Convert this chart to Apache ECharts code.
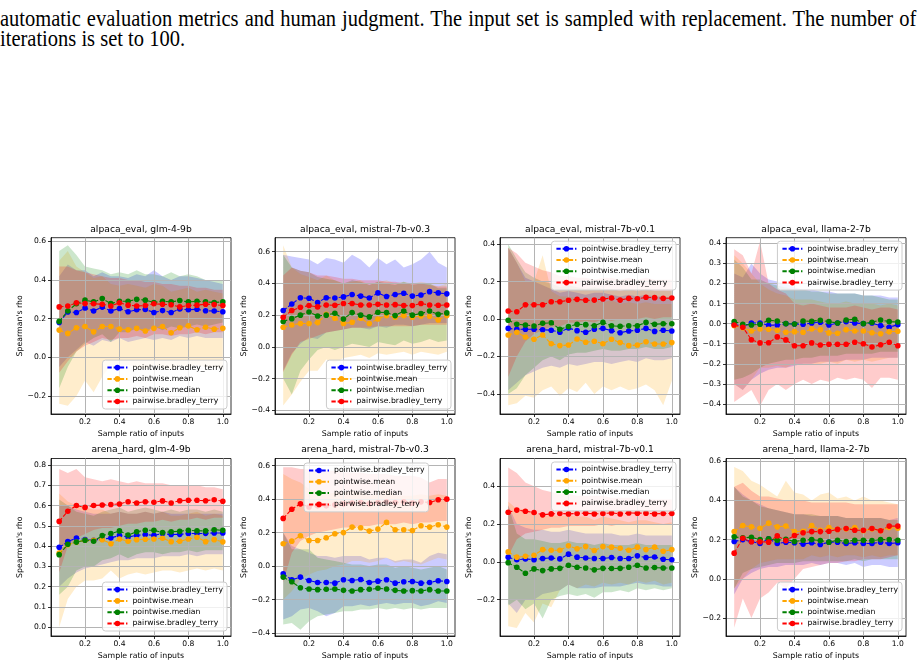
<!DOCTYPE html>
<html>
<head>
<meta charset="utf-8">
<script src="https://cdn.jsdelivr.net/npm/echarts@6.0.0/dist/echarts.min.js"></script>
<style>
  body { margin: 0; background: #fff; width: 922px; height: 667px; overflow: hidden; position: relative; }
  #caption { position: absolute; left: 0; top: 8.6px; font-family: 'Liberation Serif', serif; font-size: 20.5px;
             line-height: 17.4px; color: #000; white-space: nowrap; transform: scaleY(1.15); transform-origin: 0 0; }
  #caption .l1 { word-spacing: 0.9px; }
  .panel { position: absolute; width: 240px; }
</style>
</head>
<body>
<div id="caption">
  <div class="l1">automatic evaluation metrics and human judgment. The input set is sampled with replacement. The number of</div>
  <div>iterations is set to 100.</div>
</div>
<script>
// sample ratios on the x axis
const ratios = [0.05,0.1,0.15,0.2,0.25,0.3,0.35,0.4,0.45,0.5,0.55,0.6,0.65,0.7,0.75,0.8,0.85,0.9,0.95,1.0];
const xTicks = [0.2,0.4,0.6,0.8,1.0];
const methods = ['pointwise.bradley_terry','pointwise.mean','pointwise.median','pairwise.bradley_terry'];

// tick labels of the y axes
const yTicksA = [-0.2,0,0.2,0.4,0.6];
const yTicksB = [-0.4,-0.2,0,0.2,0.4,0.6];
const yTicksC = [-0.4,-0.2,0,0.2,0.4];
const yTicksD = [-0.4,-0.3,-0.2,-0.1,0,0.1,0.2,0.3,0.4];
const yTicksE = [0,0.1,0.2,0.3,0.4,0.5,0.6,0.7,0.8];
const yTicksF = [-0.2,0,0.2,0.4];

// alpaca_eval, glm-4-9b
const ae_glm_pbt = [0.18,0.235,0.232,0.255,0.24,0.26,0.24,0.253,0.236,0.246,0.248,0.232,0.242,0.232,0.25,0.246,0.249,0.241,0.24,0.236];
const ae_glm_pbt_lo = [-0.05,0.0,0.04,0.08,0.06,0.09,0.08,0.1,0.08,0.09,0.1,0.09,0.1,0.09,0.11,0.1,0.11,0.1,0.1,0.1];
const ae_glm_pbt_hi = [0.42,0.48,0.45,0.45,0.42,0.44,0.42,0.42,0.41,0.43,0.42,0.45,0.42,0.4,0.42,0.42,0.41,0.4,0.39,0.38];
const ae_glm_pmean = [0.141,0.124,0.153,0.16,0.132,0.16,0.16,0.146,0.143,0.15,0.136,0.15,0.16,0.127,0.153,0.163,0.143,0.156,0.146,0.15];
const ae_glm_pmean_lo = [-0.24,-0.25,-0.2,-0.12,-0.18,-0.1,-0.04,-0.05,-0.04,-0.05,-0.06,-0.04,-0.05,-0.06,-0.04,-0.05,-0.04,-0.05,-0.05,-0.06];
const ae_glm_pmean_hi = [0.5,0.55,0.47,0.44,0.41,0.42,0.38,0.37,0.38,0.37,0.36,0.38,0.37,0.34,0.35,0.36,0.34,0.35,0.34,0.33];
const ae_glm_pmed = [0.186,0.24,0.277,0.296,0.287,0.304,0.278,0.29,0.29,0.3,0.296,0.284,0.29,0.287,0.294,0.287,0.29,0.287,0.284,0.287];
const ae_glm_pmed_lo = [-0.16,-0.05,0.03,0.07,0.1,0.12,0.08,0.13,0.13,0.15,0.13,0.16,0.14,0.16,0.15,0.16,0.17,0.16,0.17,0.18];
const ae_glm_pmed_hi = [0.55,0.58,0.53,0.47,0.46,0.45,0.43,0.44,0.43,0.45,0.43,0.43,0.42,0.44,0.42,0.43,0.42,0.4,0.4,0.4];
const ae_glm_pair = [0.261,0.266,0.282,0.278,0.277,0.275,0.266,0.282,0.27,0.266,0.268,0.277,0.275,0.272,0.261,0.268,0.27,0.275,0.273,0.268];
const ae_glm_pair_lo = [-0.08,-0.02,0.03,0.06,0.08,0.1,0.09,0.1,0.1,0.11,0.1,0.12,0.12,0.11,0.12,0.12,0.13,0.12,0.13,0.13];
const ae_glm_pair_hi = [0.47,0.47,0.45,0.44,0.43,0.42,0.41,0.41,0.4,0.4,0.39,0.39,0.38,0.38,0.37,0.37,0.36,0.36,0.35,0.35];

// alpaca_eval, mistral-7b-v0.3
const ae_m03_pbt = [0.229,0.27,0.31,0.306,0.28,0.31,0.308,0.315,0.33,0.32,0.308,0.34,0.317,0.33,0.338,0.32,0.327,0.348,0.34,0.334];
const ae_m03_pbt_lo = [-0.15,-0.04,0.02,0.06,0.05,0.09,0.1,0.11,0.12,0.12,0.11,0.13,0.12,0.14,0.14,0.13,0.14,0.15,0.15,0.15];
const ae_m03_pbt_hi = [0.58,0.57,0.56,0.55,0.52,0.56,0.55,0.53,0.58,0.55,0.5,0.56,0.52,0.55,0.5,0.52,0.55,0.6,0.53,0.5];
const ae_m03_pmean = [0.124,0.138,0.147,0.147,0.153,0.205,0.18,0.147,0.155,0.18,0.147,0.176,0.197,0.187,0.197,0.187,0.195,0.193,0.17,0.197];
const ae_m03_pmean_lo = [-0.37,-0.3,-0.22,-0.15,-0.15,-0.08,-0.1,-0.07,-0.06,-0.05,-0.07,-0.04,-0.05,-0.04,-0.03,-0.05,-0.03,-0.04,-0.05,-0.03];
const ae_m03_pmean_hi = [0.64,0.5,0.46,0.44,0.42,0.45,0.42,0.4,0.41,0.42,0.39,0.41,0.42,0.4,0.41,0.4,0.41,0.4,0.38,0.4];
const ae_m03_pmed = [0.16,0.178,0.2,0.22,0.195,0.2,0.212,0.176,0.216,0.2,0.189,0.218,0.216,0.197,0.226,0.2,0.21,0.226,0.205,0.214];
const ae_m03_pmed_lo = [-0.2,-0.3,-0.15,-0.08,-0.02,0.0,-0.02,0.0,0.02,0.01,0.0,0.03,0.02,0.01,0.04,0.02,0.03,0.05,0.03,0.04];
const ae_m03_pmed_hi = [0.58,0.5,0.48,0.47,0.44,0.43,0.42,0.4,0.42,0.41,0.39,0.41,0.4,0.39,0.41,0.39,0.4,0.4,0.37,0.37];
const ae_m03_pair = [0.187,0.229,0.25,0.26,0.252,0.264,0.262,0.273,0.273,0.264,0.264,0.268,0.264,0.266,0.26,0.26,0.273,0.264,0.262,0.264];
const ae_m03_pair_lo = [-0.16,-0.05,0.03,0.05,0.07,0.09,0.1,0.11,0.12,0.12,0.12,0.13,0.13,0.13,0.13,0.13,0.14,0.14,0.14,0.14];
const ae_m03_pair_hi = [0.45,0.5,0.48,0.47,0.45,0.45,0.44,0.43,0.43,0.42,0.42,0.42,0.41,0.41,0.4,0.4,0.4,0.39,0.38,0.38];

// alpaca_eval, mistral-7b-v0.1
const ae_m01_pbt = [-0.05,-0.055,-0.055,-0.055,-0.057,-0.06,-0.071,-0.048,-0.062,-0.071,-0.055,-0.05,-0.062,-0.073,-0.064,-0.06,-0.05,-0.066,-0.06,-0.064];
const ae_m01_pbt_lo = [-0.38,-0.34,-0.3,-0.28,-0.26,-0.25,-0.26,-0.24,-0.25,-0.24,-0.23,-0.23,-0.24,-0.23,-0.22,-0.23,-0.21,-0.22,-0.22,-0.21];
const ae_m01_pbt_hi = [0.38,0.3,0.22,0.2,0.18,0.16,0.14,0.15,0.14,0.13,0.14,0.14,0.13,0.12,0.13,0.12,0.13,0.12,0.12,0.11];
const ae_m01_pmean = [-0.085,-0.071,-0.096,-0.108,-0.085,-0.132,-0.142,-0.139,-0.107,-0.124,-0.119,-0.132,-0.108,-0.126,-0.142,-0.139,-0.121,-0.133,-0.133,-0.126];
const ae_m01_pmean_lo = [-0.46,-0.45,-0.41,-0.42,-0.38,-0.36,-0.41,-0.37,-0.39,-0.34,-0.4,-0.36,-0.38,-0.36,-0.38,-0.37,-0.35,-0.38,-0.46,-0.33];
const ae_m01_pmean_hi = [0.38,0.3,0.2,0.2,0.34,0.15,0.12,0.12,0.11,0.1,0.1,0.09,0.1,0.08,0.09,0.08,0.09,0.08,0.08,0.08];
const ae_m01_pmed = [-0.007,-0.028,-0.032,-0.037,-0.023,-0.02,-0.055,-0.04,-0.028,-0.03,-0.036,-0.018,-0.036,-0.039,-0.036,-0.036,-0.018,-0.028,-0.025,-0.025];
const ae_m01_pmed_lo = [-0.4,-0.37,-0.3,-0.26,-0.22,-0.2,-0.22,-0.19,-0.18,-0.18,-0.17,-0.16,-0.17,-0.17,-0.16,-0.16,-0.15,-0.16,-0.16,-0.15];
const ae_m01_pmed_hi = [0.4,0.32,0.25,0.22,0.2,0.19,0.17,0.18,0.17,0.16,0.17,0.16,0.16,0.15,0.16,0.15,0.16,0.15,0.15,0.15];
const ae_m01_pair = [0.043,0.039,0.076,0.076,0.076,0.092,0.092,0.1,0.105,0.1,0.101,0.107,0.112,0.101,0.11,0.108,0.116,0.114,0.11,0.112];
const ae_m01_pair_lo = [-0.31,-0.2,-0.12,-0.08,-0.06,-0.04,-0.04,-0.02,-0.02,-0.01,-0.02,0.0,-0.01,0.0,0.0,0.0,0.01,0.0,0.01,0.01];
const ae_m01_pair_hi = [0.38,0.35,0.3,0.28,0.26,0.25,0.23,0.23,0.22,0.22,0.21,0.22,0.22,0.21,0.22,0.21,0.22,0.21,0.21,0.21];

// alpaca_eval, llama-2-7b
const ae_llama_pbt = [-0.003,-0.015,0.003,0.003,-0.008,-0.007,0,-0.002,-0.003,0.003,0.007,-0.007,0.003,0.01,0.003,0,0.003,-0.01,-0.018,-0.005];
const ae_llama_pbt_lo = [-0.3,-0.33,-0.28,-0.25,-0.23,-0.22,-0.22,-0.21,-0.2,-0.2,-0.19,-0.19,-0.19,-0.18,-0.18,-0.18,-0.17,-0.17,-0.17,-0.17];
const ae_llama_pbt_hi = [0.25,0.23,0.3,0.25,0.22,0.21,0.2,0.18,0.17,0.17,0.16,0.16,0.15,0.15,0.15,0.14,0.14,0.14,0.13,0.13];
const ae_llama_pmean = [-0.01,-0.02,-0.037,-0.027,-0.028,-0.033,-0.043,-0.04,-0.043,-0.027,-0.03,-0.046,-0.048,-0.03,-0.037,-0.037,-0.045,-0.05,-0.04,-0.038];
const ae_llama_pmean_lo = [-0.3,-0.33,-0.28,-0.22,-0.22,-0.21,-0.22,-0.2,-0.2,-0.2,-0.2,-0.19,-0.2,-0.18,-0.19,-0.18,-0.19,-0.18,-0.17,-0.17];
const ae_llama_pmean_hi = [0.34,0.3,0.25,0.2,0.17,0.15,0.14,0.12,0.12,0.12,0.11,0.1,0.1,0.11,0.1,0.1,0.1,0.09,0.1,0.09];
const ae_llama_pmed = [0.01,-0.003,-0.007,-0.003,0.017,0.013,0,-0.002,0.013,0.012,0.017,0.01,0.003,0.018,0.022,0,0.007,0.018,0.01,0.008];
const ae_llama_pmed_lo = [-0.28,-0.27,-0.25,-0.22,-0.2,-0.19,-0.18,-0.18,-0.17,-0.17,-0.16,-0.16,-0.16,-0.15,-0.15,-0.15,-0.15,-0.14,-0.14,-0.14];
const ae_llama_pmed_hi = [0.32,0.28,0.22,0.22,0.2,0.19,0.18,0.17,0.17,0.16,0.16,0.15,0.15,0.15,0.15,0.14,0.14,0.13,0.12,0.12];
const ae_llama_pair = [-0.007,-0.018,-0.08,-0.096,-0.095,-0.066,-0.081,-0.11,-0.11,-0.096,-0.106,-0.103,-0.103,-0.103,-0.093,-0.1,-0.116,-0.105,-0.093,-0.11];
const ae_llama_pair_lo = [-0.39,-0.36,-0.33,-0.41,-0.33,-0.3,-0.33,-0.3,-0.28,-0.3,-0.28,-0.29,-0.27,-0.28,-0.27,-0.28,-0.32,-0.27,-0.27,-0.28];
const ae_llama_pair_hi = [0.37,0.34,0.25,0.41,0.2,0.17,0.15,0.1,0.09,0.1,0.09,0.08,0.08,0.08,0.09,0.08,0.07,0.08,0.08,0.07];

// arena_hard, glm-4-9b
const ah_glm_pbt = [0.394,0.422,0.44,0.432,0.429,0.435,0.44,0.453,0.445,0.453,0.457,0.453,0.462,0.457,0.458,0.462,0.462,0.463,0.465,0.465];
const ah_glm_pbt_lo = [0.2,0.24,0.27,0.29,0.3,0.31,0.32,0.33,0.33,0.34,0.34,0.34,0.35,0.35,0.35,0.36,0.35,0.36,0.36,0.36];
const ah_glm_pbt_hi = [0.6,0.6,0.58,0.57,0.56,0.56,0.56,0.57,0.56,0.56,0.57,0.56,0.57,0.56,0.56,0.56,0.56,0.56,0.56,0.56];
const ah_glm_pmean = [0.366,0.407,0.419,0.429,0.429,0.432,0.412,0.435,0.424,0.432,0.434,0.435,0.439,0.422,0.424,0.435,0.444,0.422,0.432,0.421];
const ah_glm_pmean_lo = [0.0,0.14,0.2,0.23,0.23,0.24,0.28,0.24,0.26,0.27,0.26,0.27,0.28,0.28,0.27,0.28,0.29,0.28,0.29,0.28];
const ah_glm_pmean_hi = [0.66,0.62,0.6,0.59,0.58,0.58,0.56,0.57,0.56,0.56,0.57,0.56,0.57,0.55,0.55,0.56,0.57,0.55,0.56,0.55];
const ah_glm_pmed = [0.358,0.409,0.42,0.429,0.424,0.452,0.462,0.475,0.455,0.471,0.478,0.478,0.467,0.471,0.473,0.478,0.476,0.475,0.481,0.478];
const ah_glm_pmed_lo = [0.16,0.2,0.28,0.3,0.3,0.33,0.34,0.36,0.34,0.36,0.37,0.37,0.36,0.37,0.37,0.38,0.37,0.38,0.38,0.38];
const ah_glm_pmed_hi = [0.63,0.6,0.57,0.56,0.55,0.57,0.58,0.59,0.57,0.58,0.59,0.58,0.57,0.58,0.57,0.58,0.58,0.57,0.58,0.57];
const ah_glm_pair = [0.522,0.572,0.6,0.591,0.6,0.603,0.605,0.608,0.619,0.613,0.619,0.616,0.623,0.613,0.624,0.626,0.626,0.624,0.629,0.621];
const ah_glm_pair_lo = [0.27,0.4,0.44,0.46,0.48,0.49,0.49,0.5,0.51,0.51,0.52,0.52,0.53,0.52,0.53,0.53,0.54,0.53,0.54,0.54];
const ah_glm_pair_hi = [0.78,0.76,0.78,0.74,0.73,0.72,0.73,0.72,0.71,0.72,0.71,0.71,0.71,0.7,0.7,0.7,0.7,0.69,0.69,0.68];

// arena_hard, mistral-7b-v0.3
const ah_m03_pbt = [-0.046,-0.082,-0.066,-0.086,-0.098,-0.098,-0.102,-0.082,-0.086,-0.08,-0.098,-0.09,-0.082,-0.102,-0.094,-0.092,-0.102,-0.098,-0.088,-0.092];
const ah_m03_pbt_lo = [-0.32,-0.3,-0.26,-0.25,-0.27,-0.3,-0.28,-0.24,-0.24,-0.23,-0.24,-0.23,-0.22,-0.23,-0.22,-0.22,-0.24,-0.23,-0.21,-0.22];
const ah_m03_pbt_hi = [0.2,0.12,0.1,0.08,0.06,0.06,0.05,0.06,0.06,0.06,0.04,0.05,0.05,0.03,0.04,0.04,0.02,0.06,0.08,0.07];
const ah_m03_pmean = [0.133,0.149,0.181,0.153,0.153,0.169,0.193,0.2,0.233,0.229,0.209,0.221,0.261,0.217,0.217,0.213,0.241,0.233,0.247,0.233];
const ah_m03_pmean_lo = [-0.2,-0.15,-0.08,-0.05,-0.03,-0.02,0.0,0.01,0.03,0.03,0.02,0.03,0.05,0.02,0.03,0.02,0.01,0.03,0.05,0.04];
const ah_m03_pmean_hi = [0.55,0.52,0.5,0.46,0.44,0.43,0.44,0.44,0.45,0.44,0.42,0.43,0.46,0.42,0.42,0.42,0.43,0.42,0.43,0.42];
const ah_m03_pmed = [-0.066,-0.094,-0.13,-0.137,-0.141,-0.139,-0.137,-0.145,-0.149,-0.141,-0.139,-0.133,-0.137,-0.145,-0.149,-0.147,-0.149,-0.141,-0.149,-0.149];
const ah_m03_pmed_lo = [-0.35,-0.34,-0.38,-0.33,-0.3,-0.29,-0.28,-0.27,-0.27,-0.26,-0.26,-0.25,-0.26,-0.25,-0.26,-0.25,-0.26,-0.25,-0.25,-0.25];
const ah_m03_pmed_hi = [0.2,0.1,0.1,0.1,0.05,0.04,0.03,0.02,0.01,0.01,0.0,0.01,0.01,-0.01,0.0,-0.01,-0.02,-0.01,0.0,-0.02];
const ah_m03_pair = [0.285,0.34,0.372,0.353,0.36,0.36,0.366,0.372,0.376,0.38,0.372,0.38,0.384,0.38,0.384,0.376,0.384,0.38,0.396,0.4];
const ah_m03_pair_lo = [-0.1,0.08,0.15,0.18,0.2,0.21,0.22,0.23,0.23,0.24,0.24,0.25,0.25,0.25,0.26,0.25,0.26,0.26,0.27,0.27];
const ah_m03_pair_hi = [0.59,0.59,0.58,0.58,0.57,0.57,0.57,0.56,0.56,0.56,0.55,0.55,0.55,0.54,0.54,0.54,0.53,0.5,0.52,0.52];

// arena_hard, mistral-7b-v0.1
const ah_m01_pbt = [0.025,0.011,0.016,0.012,0.018,0.021,0.016,0.041,0.025,0.021,0.018,0.018,0.023,0.018,0.018,0.032,0.023,0.026,0.014,0.011];
const ah_m01_pbt_lo = [-0.22,-0.27,-0.2,-0.2,-0.17,-0.16,-0.15,-0.12,-0.14,-0.14,-0.14,-0.13,-0.13,-0.13,-0.12,-0.11,-0.12,-0.12,-0.13,-0.13];
const ah_m01_pbt_hi = [0.3,0.2,0.18,0.17,0.17,0.16,0.16,0.17,0.16,0.15,0.15,0.15,0.15,0.14,0.14,0.15,0.14,0.14,0.14,0.14];
const ah_m01_pmean = [0.053,0.025,0.03,0.035,0.065,0.062,0.062,0.085,0.069,0.081,0.06,0.081,0.078,0.072,0.062,0.078,0.065,0.078,0.056,0.065];
const ah_m01_pmean_lo = [-0.34,-0.35,-0.27,-0.32,-0.22,-0.24,-0.15,-0.12,-0.14,-0.12,-0.13,-0.11,-0.12,-0.11,-0.12,-0.1,-0.11,-0.1,-0.12,-0.11];
const ah_m01_pmean_hi = [0.32,0.28,0.28,0.26,0.24,0.25,0.24,0.25,0.24,0.24,0.22,0.24,0.23,0.22,0.21,0.22,0.22,0.21,0.2,0.21];
const ah_m01_pmed = [-0.004,-0.028,-0.06,-0.037,-0.046,-0.037,-0.034,-0.018,-0.028,-0.032,-0.042,-0.034,-0.035,-0.034,-0.028,-0.018,-0.032,-0.03,-0.032,-0.032];
const ah_m01_pmed_lo = [-0.23,-0.2,-0.25,-0.22,-0.3,-0.2,-0.18,-0.17,-0.18,-0.17,-0.19,-0.16,-0.16,-0.15,-0.16,-0.14,-0.15,-0.14,-0.15,-0.14];
const ah_m01_pmed_hi = [0.3,0.15,0.12,0.12,0.11,0.1,0.1,0.11,0.1,0.1,0.09,0.1,0.09,0.09,0.09,0.1,0.09,0.09,0.09,0.09];
const ah_m01_pair = [0.263,0.274,0.268,0.261,0.249,0.254,0.256,0.254,0.256,0.258,0.254,0.256,0.259,0.254,0.259,0.258,0.258,0.254,0.256,0.256];
const ah_m01_pair_lo = [0.03,0.12,0.15,0.16,0.17,0.18,0.18,0.19,0.19,0.19,0.19,0.2,0.19,0.2,0.2,0.2,0.2,0.2,0.2,0.2];
const ah_m01_pair_hi = [0.5,0.47,0.42,0.4,0.38,0.37,0.36,0.36,0.35,0.35,0.35,0.35,0.34,0.34,0.34,0.34,0.33,0.33,0.33,0.33];

// arena_hard, llama-2-7b
const ah_llama_pbt = [0.19,0.2,0.19,0.18,0.204,0.18,0.187,0.184,0.177,0.184,0.175,0.187,0.187,0.18,0.184,0.18,0.18,0.187,0.18,0.184];
const ah_llama_pbt_lo = [-0.08,0.0,0.03,0.05,0.06,0.06,0.07,0.07,0.07,0.08,0.07,0.08,0.08,0.07,0.08,0.06,0.07,0.07,0.06,0.06];
const ah_llama_pbt_hi = [0.47,0.43,0.4,0.38,0.36,0.35,0.34,0.33,0.33,0.32,0.32,0.32,0.32,0.31,0.31,0.31,0.31,0.31,0.3,0.31];
const ah_llama_pmean = [0.241,0.272,0.265,0.258,0.284,0.265,0.269,0.241,0.243,0.272,0.248,0.262,0.252,0.255,0.262,0.245,0.255,0.245,0.262,0.258];
const ah_llama_pmean_lo = [-0.05,0.0,0.05,0.08,0.09,0.1,0.1,0.1,0.1,0.12,0.11,0.12,0.11,0.12,0.12,0.11,0.12,0.11,0.12,0.12];
const ah_llama_pmean_hi = [0.57,0.55,0.5,0.48,0.45,0.42,0.5,0.44,0.43,0.4,0.43,0.44,0.41,0.42,0.4,0.42,0.4,0.4,0.39,0.38];
const ah_llama_pmed = [0.214,0.209,0.212,0.2,0.204,0.197,0.202,0.19,0.197,0.2,0.195,0.187,0.197,0.19,0.197,0.197,0.195,0.2,0.2,0.197];
const ah_llama_pmed_lo = [-0.05,0.03,0.05,0.06,0.07,0.08,0.08,0.08,0.09,0.09,0.09,0.09,0.09,0.09,0.1,0.09,0.1,0.1,0.1,0.1];
const ah_llama_pmed_hi = [0.47,0.42,0.4,0.37,0.36,0.35,0.34,0.33,0.33,0.33,0.32,0.32,0.32,0.31,0.31,0.31,0.31,0.31,0.3,0.3];
const ah_llama_pair = [0.131,0.207,0.189,0.189,0.187,0.219,0.195,0.221,0.235,0.241,0.241,0.243,0.252,0.257,0.248,0.248,0.257,0.245,0.269,0.269];
const ah_llama_pair_lo = [-0.25,-0.1,-0.2,-0.1,-0.07,-0.02,-0.05,0.0,0.05,0.06,0.07,0.08,0.08,0.09,0.09,0.1,0.1,0.1,0.11,0.12];
const ah_llama_pair_hi = [0.47,0.49,0.45,0.42,0.42,0.41,0.4,0.4,0.4,0.39,0.39,0.39,0.39,0.39,0.38,0.38,0.38,0.38,0.38,0.38];

const lineColors = ['#0000ff', '#ffa500', '#008000', '#ff0000'];
const bandColors = ['rgba(0,0,255,0.2)', 'rgba(255,165,0,0.2)', 'rgba(0,128,0,0.2)', 'rgba(255,0,0,0.2)'];

const panels = [
  { title: 'alpaca_eval, glm-4-9b', col: 0, row: 0, yMin: -0.293, yMax: 0.619, yTicks: yTicksA, legend: 'lr',
    mean: [ae_glm_pbt, ae_glm_pmean, ae_glm_pmed, ae_glm_pair],
    lo: [ae_glm_pbt_lo, ae_glm_pmean_lo, ae_glm_pmed_lo, ae_glm_pair_lo],
    hi: [ae_glm_pbt_hi, ae_glm_pmean_hi, ae_glm_pmed_hi, ae_glm_pair_hi] },
  { title: 'alpaca_eval, mistral-7b-v0.3', col: 1, row: 0, yMin: -0.423, yMax: 0.688, yTicks: yTicksB, legend: 'lr',
    mean: [ae_m03_pbt, ae_m03_pmean, ae_m03_pmed, ae_m03_pair],
    lo: [ae_m03_pbt_lo, ae_m03_pmean_lo, ae_m03_pmed_lo, ae_m03_pair_lo],
    hi: [ae_m03_pbt_hi, ae_m03_pmean_hi, ae_m03_pmed_hi, ae_m03_pair_hi] },
  { title: 'alpaca_eval, mistral-7b-v0.1', col: 2, row: 0, yMin: -0.507, yMax: 0.434, yTicks: yTicksC, legend: 'ur',
    mean: [ae_m01_pbt, ae_m01_pmean, ae_m01_pmed, ae_m01_pair],
    lo: [ae_m01_pbt_lo, ae_m01_pmean_lo, ae_m01_pmed_lo, ae_m01_pair_lo],
    hi: [ae_m01_pbt_hi, ae_m01_pmean_hi, ae_m01_pmed_hi, ae_m01_pair_hi] },
  { title: 'alpaca_eval, llama-2-7b', col: 3, row: 0, yMin: -0.45, yMax: 0.428, yTicks: yTicksD, legend: 'ur',
    mean: [ae_llama_pbt, ae_llama_pmean, ae_llama_pmed, ae_llama_pair],
    lo: [ae_llama_pbt_lo, ae_llama_pmean_lo, ae_llama_pmed_lo, ae_llama_pair_lo],
    hi: [ae_llama_pbt_hi, ae_llama_pmean_hi, ae_llama_pmed_hi, ae_llama_pair_hi] },
  { title: 'arena_hard, glm-4-9b', col: 0, row: 1, yMin: -0.043, yMax: 0.832, yTicks: yTicksE, legend: 'lr',
    mean: [ah_glm_pbt, ah_glm_pmean, ah_glm_pmed, ah_glm_pair],
    lo: [ah_glm_pbt_lo, ah_glm_pmean_lo, ah_glm_pmed_lo, ah_glm_pair_lo],
    hi: [ah_glm_pbt_hi, ah_glm_pmean_hi, ah_glm_pmed_hi, ah_glm_pair_hi] },
  { title: 'arena_hard, mistral-7b-v0.3', col: 1, row: 1, yMin: -0.418, yMax: 0.643, yTicks: yTicksB, legend: 'uc',
    mean: [ah_m03_pbt, ah_m03_pmean, ah_m03_pmed, ah_m03_pair],
    lo: [ah_m03_pbt_lo, ah_m03_pmean_lo, ah_m03_pmed_lo, ah_m03_pair_lo],
    hi: [ah_m03_pbt_hi, ah_m03_pmean_hi, ah_m03_pmed_hi, ah_m03_pair_hi] },
  { title: 'arena_hard, mistral-7b-v0.1', col: 2, row: 1, yMin: -0.392, yMax: 0.547, yTicks: yTicksF, legend: 'ur',
    mean: [ah_m01_pbt, ah_m01_pmean, ah_m01_pmed, ah_m01_pair],
    lo: [ah_m01_pbt_lo, ah_m01_pmean_lo, ah_m01_pmed_lo, ah_m01_pair_lo],
    hi: [ah_m01_pbt_hi, ah_m01_pmean_hi, ah_m01_pmed_hi, ah_m01_pair_hi] },
  { title: 'arena_hard, llama-2-7b', col: 3, row: 1, yMin: -0.292, yMax: 0.614, yTicks: yTicksA, legend: 'lr',
    mean: [ah_llama_pbt, ah_llama_pmean, ah_llama_pmed, ah_llama_pair],
    lo: [ah_llama_pbt_lo, ah_llama_pmean_lo, ah_llama_pmed_lo, ah_llama_pair_lo],
    hi: [ah_llama_pbt_hi, ah_llama_pmean_hi, ah_llama_pmed_hi, ah_llama_pair_hi] }
];

// page layout of the 4x2 grid of panels
const colLeft = [0, 224, 449, 674.5];
const rowTop = [222, 442];
const divH = [222, 225];
const gridTop = [15.7, 16.5];
const gridH = [176.3, 177.5];
const FONT = 'DejaVu Sans';

function fmt(v) {
  return (v < 0 ? '\u2212' : '') + Math.abs(v).toFixed(1);
}

panels.forEach((p) => {
  const el = document.createElement('div');
  el.className = 'panel';
  el.style.left = colLeft[p.col] + 'px';
  el.style.top = rowTop[p.row] + 'px';
  el.style.height = divH[p.row] + 'px';
  document.body.appendChild(el);

  const gTop = gridTop[p.row];
  const gH = gridH[p.row];
  const h = divH[p.row];

  const series = [];
  // shaded bands (drawn under everything)
  methods.forEach((name, i) => {
    const lo = p.lo[i], hi = p.hi[i];
    series.push({
      type: 'custom',
      coordinateSystem: 'cartesian2d',
      silent: true,
      z: 1,
      clip: true,
      data: ratios.map((x, k) => [x, lo[k], hi[k]]),
      encode: { x: 0, y: [1, 2] },
      renderItem: (params, api) => {
        if (params.dataIndex !== 0) return null;
        const pts = [];
        for (let k = 0; k < ratios.length; k++) pts.push(api.coord([ratios[k], hi[k]]));
        for (let k = ratios.length - 1; k >= 0; k--) pts.push(api.coord([ratios[k], lo[k]]));
        return { type: 'polygon', shape: { points: pts }, style: { fill: bandColors[i], stroke: null } };
      }
    });
  });
  // mean lines with markers
  methods.forEach((name, i) => {
    series.push({
      name: name,
      type: 'line',
      z: 3,
      data: ratios.map((x, k) => [x, p.mean[i][k]]),
      symbol: 'circle',
      symbolSize: 5.6,
      showSymbol: true,
      lineStyle: { color: lineColors[i], width: 1.1, type: [4.3, 1.9] },
      itemStyle: { color: lineColors[i] }
    });
  });

  let legendPos;
  if (p.legend === 'lr') legendPos = { right: 13, bottom: h - gTop - gH + 5 };
  else if (p.legend === 'ur') legendPos = { right: 13, top: gTop + 3.5 };
  else legendPos = { left: 80, top: gTop + 4.5 };

  const chart = echarts.init(el);
  chart.setOption({
    animation: false,
    title: {
      text: p.title, left: 141, top: gTop - 13.5, textAlign: 'center', padding: 0,
      textStyle: { fontFamily: FONT, fontSize: 9.2, fontWeight: 'normal', color: '#000', lineHeight: 10 }
    },
    legend: Object.assign({
      data: methods,
      orient: 'vertical',
      itemWidth: 20,
      itemHeight: 7,
      itemGap: 2.3,
      padding: [3, 4, 3, 4],
      backgroundColor: 'rgba(255,255,255,0.8)',
      borderColor: '#cccccc',
      borderWidth: 1,
      borderRadius: 3,
      selectedMode: false,
      textStyle: { fontFamily: FONT, fontSize: 7.7, color: '#000', lineHeight: 9 }
    }, legendPos),
    grid: {
      left: 51, top: gTop, width: 180, height: gH,
      show: true, borderColor: '#000', borderWidth: 0.8, backgroundColor: 'transparent'
    },
    xAxis: {
      type: 'value', min: 0.0025, max: 1.0475, z: 2,
      axisLine: { show: true, onZero: false, lineStyle: { color: '#000', width: 0.8 } },
      axisTick: { show: true, customValues: xTicks, length: 3, lineStyle: { color: '#000', width: 0.8 } },
      axisLabel: { customValues: xTicks, formatter: fmt, margin: 4, fontFamily: FONT, fontSize: 7.6, color: '#000', lineHeight: 9 },
      splitLine: { show: true, lineStyle: { color: '#b4b4b4', width: 1 } },
      name: 'Sample ratio of inputs', nameLocation: 'middle', nameGap: 15, nameMoveOverlap: false,
      nameTextStyle: { fontFamily: FONT, fontSize: 7.8, color: '#000', lineHeight: 9 }
    },
    yAxis: {
      type: 'value', min: p.yMin, max: p.yMax, z: 2,
      axisLine: { show: true, onZero: false, lineStyle: { color: '#000', width: 0.8 } },
      axisTick: { show: true, customValues: p.yTicks, length: 3, lineStyle: { color: '#000', width: 0.8 } },
      axisLabel: { customValues: p.yTicks, formatter: fmt, margin: 5, fontFamily: FONT, fontSize: 7.6, color: '#000' },
      splitLine: { show: true, lineStyle: { color: '#b4b4b4', width: 1 } },
      name: "Spearman's rho", nameLocation: 'middle', nameGap: 26.5, nameRotate: 90, nameMoveOverlap: false,
      nameTextStyle: { fontFamily: FONT, fontSize: 7.8, color: '#000', lineHeight: 9 }
    },
    series: series
  });
});
</script>
</body>
</html>
